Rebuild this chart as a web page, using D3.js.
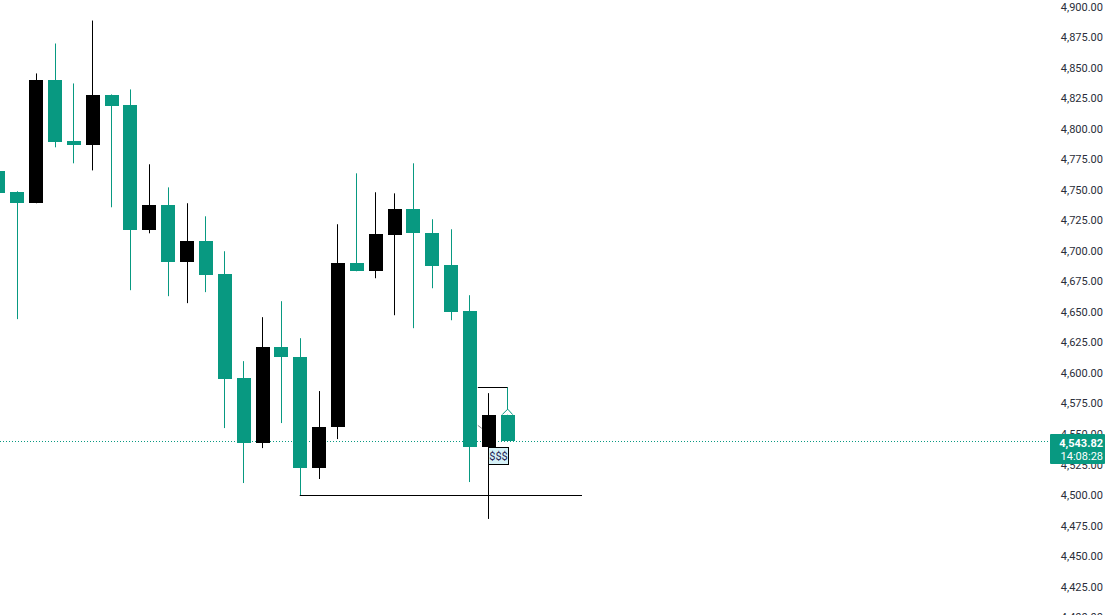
<!DOCTYPE html>
<html>
<head>
<meta charset="utf-8">
<script src="https://cdn.jsdelivr.net/npm/d3@7"></script>
<style>
body{margin:0;background:#fff;}
svg{display:block;}
.tick text{font-family:Roboto,"Liberation Sans",sans-serif;font-size:11px;fill:#2a2e39;}
</style>
</head>
<body>
<svg id="chart"></svg>
<script>
// candle index -1 is the one cut off at the left edge
var bars   = [-1,0,1,2,3,4,5,6,7,8,9,10,11,12,13,14,15,16,17,18,19,20,21,22,23,24,25,26]
var opens  = [4765.0,4747.9,4738.9,4839.5,4789.6,4786.3,4827.2,4819.0,4716.8,4737.2,4690.6,4707.8,4680.8,4595.7,4542.5,4621.1,4612.9,4522.1,4555.6,4689.8,4683.2,4712.7,4733.9,4714.3,4688.1,4650.5,4539.3,4565.4]
var highs  = [4766.0,4748.7,4845.2,4869.7,4837.0,4888.5,4828.0,4832.1,4770.8,4751.9,4738.9,4728.2,4699.6,4609.6,4645.6,4658.7,4628.4,4585.1,4721.7,4763.4,4747.9,4747.0,4771.6,4725.8,4717.6,4663.6,4583.4,4588.3]
var lows   = [4746.0,4644.0,4738.9,4784.7,4771.6,4765.8,4735.6,4667.7,4714.3,4662.8,4657.1,4666.1,4554.8,4509.8,4538.4,4558.9,4500.0,4513.1,4545.8,4683.2,4677.5,4647.2,4636.6,4669.3,4643.1,4510.6,4480.4,4543.82]
var closes = [4747.0,4738.9,4839.5,4788.8,4786.3,4827.2,4818.2,4716.8,4737.2,4690.6,4707.8,4680.0,4594.9,4542.5,4621.1,4612.9,4522.1,4555.6,4689.8,4683.2,4713.5,4733.9,4714.3,4687.3,4649.7,4539.3,4565.4,4543.82]

var priceTicks = [4400,4425,4450,4475,4500,4525,4550,4575,4600,4625,4650,4675,4700,4725,4750,4775,4800,4825,4850,4875,4900]
var lastPrice = 4543.82
var lastTime = "14:08:28"
var supportLevel = 4500      // black line from bar 15
var bracketLevel = 4588.3    // small line over the last two bars

var screen = {width:1110,height:615}
var teal = "#089981"

var svg = d3.select("#chart")
    .attr("width",screen.width)
    .attr("height",screen.height)

var xScale = d3.scaleLinear()
    .domain([0,26])
    .range([17.3,507.7])
var yScale = d3.scaleLinear()
    .domain([4500,4900])
    .range([495,6.5])

var bodyW = 14
var px = function(v){ return Math.round(v)+0.5; }

// price axis on the right, labels only
var yAxis = d3.axisRight(yScale)
    .tickValues(priceTicks)
    .tickFormat(d3.format(",.2f"))
    .tickSize(0)
var axisG = svg.append("g")
    .attr("transform","translate(1103,0)")
    .call(yAxis)
axisG.select(".domain").remove()
axisG.selectAll("text")
    .attr("x",0)
    .attr("text-anchor","end")

// dotted last price line
svg.append("line")
    .attr("x1",0)
    .attr("x2",1050)
    .attr("y1",px(yScale(lastPrice)))
    .attr("y2",px(yScale(lastPrice)))
    .attr("stroke",teal)
    .attr("stroke-dasharray","1,2")

var candles = bars.map(function(b,i)
{
    return {i:b,o:opens[i],h:highs[i],l:lows[i],c:closes[i]};
})
var colorOf = function(d){ return d.c>d.o ? "#000000" : teal; }

var g = svg.append("g")

g.selectAll("line.wick")
    .data(candles)
    .enter()
    .append("line")
    .attr("class","wick")
    .attr("x1",function(d){ return px(xScale(d.i)-0.5); })
    .attr("x2",function(d){ return px(xScale(d.i)-0.5); })
    .attr("y1",function(d){ return yScale(d.h); })
    .attr("y2",function(d){ return yScale(d.l); })
    .attr("stroke",colorOf)
    .attr("stroke-width",1)

g.selectAll("rect.body")
    .data(candles)
    .enter()
    .append("rect")
    .attr("class","body")
    .attr("x",function(d){ return Math.round(xScale(d.i)-bodyW/2); })
    .attr("width",bodyW)
    .attr("y",function(d){ return Math.round(yScale(Math.max(d.o,d.c))); })
    .attr("height",function(d){ return Math.max(2,Math.round(Math.abs(yScale(d.o)-yScale(d.c)))); })
    .attr("fill",colorOf)
    .attr("shape-rendering","crispEdges")

// support line
svg.append("line")
    .attr("x1",xScale(15)-0.5)
    .attr("x2",582)
    .attr("y1",px(yScale(supportLevel)))
    .attr("y2",px(yScale(supportLevel)))
    .attr("stroke","#000")
    .attr("stroke-width",1.2)

// bracket over the last two bars
svg.append("line")
    .attr("x1",xScale(25)-11)
    .attr("x2",px(xScale(26)-0.5))
    .attr("y1",px(yScale(bracketLevel)))
    .attr("y2",px(yScale(bracketLevel)))
    .attr("stroke","#000")

// little arrow on the last bar
var ax = xScale(26), ay = yScale(4565.4)
svg.append("path")
    .attr("d","M"+(ax-5.5)+","+(ay-0.5)+"L"+ax+","+(ay-6)+"L"+(ax+5)+","+(ay-0.5))
    .attr("fill","#fff")
    .attr("stroke",teal)
    .attr("stroke-width",1)

// small grey mark left of bar 25
svg.append("path")
    .attr("d","M"+(xScale(25)-11)+","+(yScale(4557))+"l4,3")
    .attr("stroke","#888")
    .attr("fill","none")

// $$$ label
var lx = Math.round(xScale(25)-0.5), ly = Math.round(yScale(lastPrice))+6
svg.append("rect")
    .attr("x",lx+0.5)
    .attr("y",ly+0.5)
    .attr("width",20)
    .attr("height",17)
    .attr("fill","#d6f1f7")
    .attr("stroke","#000")
svg.append("text")
    .text("$$$")
    .attr("x",lx+10.5)
    .attr("y",ly+13)
    .attr("text-anchor","middle")
    .attr("font-family","Roboto,sans-serif")
    .attr("font-size","11px")
    .attr("fill","#222255")

// last price badge
var by = yScale(lastPrice)
svg.append("rect")
    .attr("x",1050)
    .attr("y",Math.round(by)-7)
    .attr("width",55)
    .attr("height",30)
    .attr("rx",1)
    .attr("fill",teal)
svg.append("text")
    .text(d3.format(",.2f")(lastPrice))
    .attr("x",1103)
    .attr("y",Math.round(by)+6)
    .attr("text-anchor","end")
    .attr("font-family","Roboto,sans-serif")
    .attr("font-size","11px")
    .attr("font-weight","bold")
    .attr("fill","#fff")
svg.append("text")
    .text(lastTime)
    .attr("x",1103)
    .attr("y",Math.round(by)+19)
    .attr("text-anchor","end")
    .attr("font-family","Roboto,sans-serif")
    .attr("font-size","11px")
    .attr("fill","#fff")
</script>
</body>
</html>
